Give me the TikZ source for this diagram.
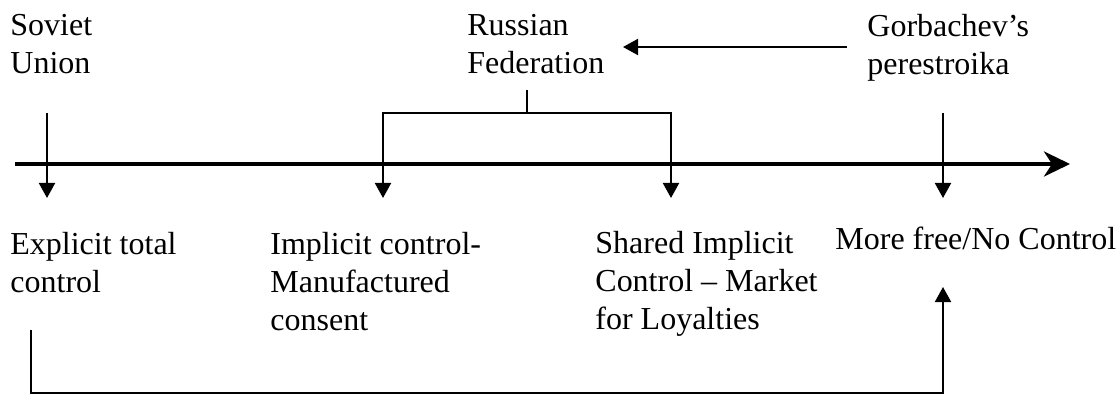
\documentclass[tikz,border=0pt]{standalone}
\usepackage{fontspec}
\setmainfont{Liberation Serif}
\usetikzlibrary{arrows.meta,positioning}

\begin{document}
\begin{tikzpicture}[x=0.5pt,y=0.5pt,
  era/.style={anchor=north west,inner sep=0pt,align=left,font=\fontsize{16}{19}\selectfont},
  pointer/.style={line width=1pt,-{Triangle[length=7.5pt,width=8pt]}},
  timeline/.style={line width=2pt,-{Stealth[length=13pt,width=12.5pt,inset=4pt]}}]
\useasboundingbox (0,0) rectangle (1120,397);
% regimes above the line
\node[era] (soviet)  at (10,383)  {Soviet\\Union};
\node[era] (russia)  at (467,383) {Russian\\Federation};
\node[era] (gorby)   at (867,383) {Gorbachev's\\perestroika};
% kinds of control below the line
\node[era] (explicit) at (10,165)  {Explicit total\\control};
\node[era] (implicit) at (270,165) {Implicit control-\\Manufactured\\consent};
\node[era] (shared)   at (595,166) {Shared Implicit\\Control -- Market\\for Loyalties};
\node[era] (free)     at (835,170) {More free/No Control};
% points on the line
\coordinate (line start) at (15,233);
\coordinate (line end)   at (1070,233);
\coordinate (su top) at (47,284);   \coordinate (su tip) at (47,199);
\coordinate (rf stem) at (527,307); \coordinate (rf mid) at (527,284);
\coordinate (ic tip) at (383,199);  \coordinate (sc tip) at (671,199);
\coordinate (gp top) at (943,284);  \coordinate (gp tip) at (943,199);
\coordinate (gp from) at (847,350); \coordinate (gp to) at (623,350);
\coordinate (loop start) at (31,67); \coordinate (loop low) at (943,4);
\coordinate (loop tip) at (943,110);

\draw [timeline] (line start) -- (line end);
\draw [pointer] (su top) -- (su tip);
\draw [line width=1pt] (rf stem) -- (rf mid);
\draw [pointer] (rf mid) -| (ic tip);
\draw [pointer] (rf mid) -| (sc tip);
\draw [pointer] (gp top) -- (gp tip);
\draw [pointer] (gp from) -- (gp to);
\draw [pointer] (loop start) |- (loop low) -- (loop tip);
\end{tikzpicture}
\end{document}
